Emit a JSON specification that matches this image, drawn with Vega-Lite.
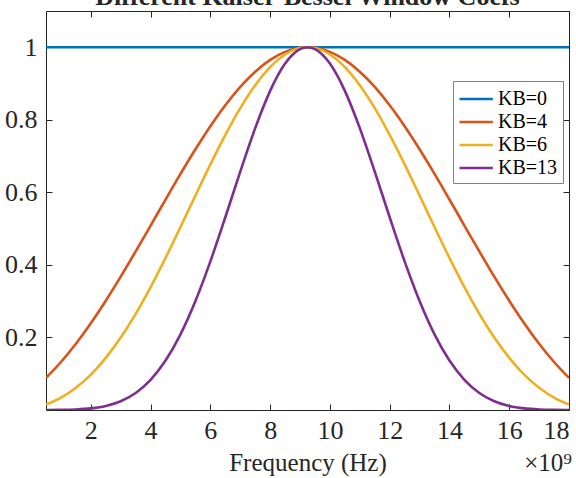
{
  "$schema": "https://vega.github.io/schema/vega-lite/v6.json",
  "width": 523,
  "height": 399,
  "autosize": {"type": "none"},
  "padding": {"left": 46, "top": 11, "right": 7, "bottom": 68},
  "background": "white",
  "title": {"text": "Different Kaiser-Bessel Window Coefs", "anchor": "middle", "font": "Liberation Serif", "fontSize": 26, "fontWeight": "bold", "color": "#262626", "baseline": "alphabetic", "offset": 0, "dy": 20},
  "config": {
    "view": {"stroke": "#262626", "strokeWidth": 1},
    "font": "Liberation Serif",
    "axis": {"grid": false, "domain": false, "tickColor": "#262626", "tickSize": -6, "tickWidth": 1, "labelFont": "Liberation Serif", "labelColor": "#262626", "labelFontSize": 26, "titleFont": "Liberation Serif", "titleColor": "#262626", "titleFontWeight": "normal", "titleFontSize": 25}
  },
  "data": {"values": [
    {"f": 0.5, "k": "KB=0", "w": 1}, {"f": 18, "k": "KB=0", "w": 1},
    {"f": 0.5, "k": "KB=4", "w": 0.08848}, {"f": 1, "k": "KB=4", "w": 0.13236}, {"f": 1.5, "k": "KB=4", "w": 0.18285}, {"f": 2, "k": "KB=4", "w": 0.23945}, {"f": 2.5, "k": "KB=4", "w": 0.30138}, {"f": 3, "k": "KB=4", "w": 0.36767}, {"f": 3.5, "k": "KB=4", "w": 0.43716}, {"f": 4, "k": "KB=4", "w": 0.50851}, {"f": 4.5, "k": "KB=4", "w": 0.58027}, {"f": 5, "k": "KB=4", "w": 0.6509}, {"f": 5.5, "k": "KB=4", "w": 0.71879}, {"f": 6, "k": "KB=4", "w": 0.78236}, {"f": 6.5, "k": "KB=4", "w": 0.84013}, {"f": 7, "k": "KB=4", "w": 0.89066}, {"f": 7.5, "k": "KB=4", "w": 0.93271}, {"f": 8, "k": "KB=4", "w": 0.96523}, {"f": 8.5, "k": "KB=4", "w": 0.98737}, {"f": 9, "k": "KB=4", "w": 0.99859}, {"f": 9.25, "k": "KB=4", "w": 1}, {"f": 9.5, "k": "KB=4", "w": 0.99859}, {"f": 10, "k": "KB=4", "w": 0.98737}, {"f": 10.5, "k": "KB=4", "w": 0.96523}, {"f": 11, "k": "KB=4", "w": 0.93271}, {"f": 11.5, "k": "KB=4", "w": 0.89066}, {"f": 12, "k": "KB=4", "w": 0.84013}, {"f": 12.5, "k": "KB=4", "w": 0.78236}, {"f": 13, "k": "KB=4", "w": 0.71879}, {"f": 13.5, "k": "KB=4", "w": 0.6509}, {"f": 14, "k": "KB=4", "w": 0.58027}, {"f": 14.5, "k": "KB=4", "w": 0.50851}, {"f": 15, "k": "KB=4", "w": 0.43716}, {"f": 15.5, "k": "KB=4", "w": 0.36767}, {"f": 16, "k": "KB=4", "w": 0.30138}, {"f": 16.5, "k": "KB=4", "w": 0.23945}, {"f": 17, "k": "KB=4", "w": 0.18285}, {"f": 17.5, "k": "KB=4", "w": 0.13236}, {"f": 18, "k": "KB=4", "w": 0.08848},
    {"f": 0.5, "k": "KB=6", "w": 0.01487}, {"f": 1, "k": "KB=6", "w": 0.03389}, {"f": 1.5, "k": "KB=6", "w": 0.06112}, {"f": 2, "k": "KB=6", "w": 0.0975}, {"f": 2.5, "k": "KB=6", "w": 0.1437}, {"f": 3, "k": "KB=6", "w": 0.19971}, {"f": 3.5, "k": "KB=6", "w": 0.26517}, {"f": 4, "k": "KB=6", "w": 0.33897}, {"f": 4.5, "k": "KB=6", "w": 0.41946}, {"f": 5, "k": "KB=6", "w": 0.50445}, {"f": 5.5, "k": "KB=6", "w": 0.59129}, {"f": 6, "k": "KB=6", "w": 0.67697}, {"f": 6.5, "k": "KB=6", "w": 0.75831}, {"f": 7, "k": "KB=6", "w": 0.83213}, {"f": 7.5, "k": "KB=6", "w": 0.8954}, {"f": 8, "k": "KB=6", "w": 0.94542}, {"f": 8.5, "k": "KB=6", "w": 0.98006}, {"f": 9, "k": "KB=6", "w": 0.99777}, {"f": 9.25, "k": "KB=6", "w": 1}, {"f": 9.5, "k": "KB=6", "w": 0.99777}, {"f": 10, "k": "KB=6", "w": 0.98006}, {"f": 10.5, "k": "KB=6", "w": 0.94542}, {"f": 11, "k": "KB=6", "w": 0.8954}, {"f": 11.5, "k": "KB=6", "w": 0.83213}, {"f": 12, "k": "KB=6", "w": 0.75831}, {"f": 12.5, "k": "KB=6", "w": 0.67697}, {"f": 13, "k": "KB=6", "w": 0.59129}, {"f": 13.5, "k": "KB=6", "w": 0.50445}, {"f": 14, "k": "KB=6", "w": 0.41946}, {"f": 14.5, "k": "KB=6", "w": 0.33897}, {"f": 15, "k": "KB=6", "w": 0.26517}, {"f": 15.5, "k": "KB=6", "w": 0.19971}, {"f": 16, "k": "KB=6", "w": 0.1437}, {"f": 16.5, "k": "KB=6", "w": 0.0975}, {"f": 17, "k": "KB=6", "w": 0.06112}, {"f": 17.5, "k": "KB=6", "w": 0.03389}, {"f": 18, "k": "KB=6", "w": 0.01487},
    {"f": 0.5, "k": "KB=13", "w": 0.00002}, {"f": 1, "k": "KB=13", "w": 0.00031}, {"f": 1.5, "k": "KB=13", "w": 0.0014}, {"f": 2, "k": "KB=13", "w": 0.00441}, {"f": 2.5, "k": "KB=13", "w": 0.01116}, {"f": 3, "k": "KB=13", "w": 0.02426}, {"f": 3.5, "k": "KB=13", "w": 0.04706}, {"f": 4, "k": "KB=13", "w": 0.08326}, {"f": 4.5, "k": "KB=13", "w": 0.13629}, {"f": 5, "k": "KB=13", "w": 0.20853}, {"f": 5.5, "k": "KB=13", "w": 0.30043}, {"f": 6, "k": "KB=13", "w": 0.40981}, {"f": 6.5, "k": "KB=13", "w": 0.53143}, {"f": 7, "k": "KB=13", "w": 0.65726}, {"f": 7.5, "k": "KB=13", "w": 0.77707}, {"f": 8, "k": "KB=13", "w": 0.87978}, {"f": 8.5, "k": "KB=13", "w": 0.95507}, {"f": 9, "k": "KB=13", "w": 0.99491}, {"f": 9.25, "k": "KB=13", "w": 1}, {"f": 9.5, "k": "KB=13", "w": 0.99491}, {"f": 10, "k": "KB=13", "w": 0.95507}, {"f": 10.5, "k": "KB=13", "w": 0.87978}, {"f": 11, "k": "KB=13", "w": 0.77707}, {"f": 11.5, "k": "KB=13", "w": 0.65726}, {"f": 12, "k": "KB=13", "w": 0.53143}, {"f": 12.5, "k": "KB=13", "w": 0.40981}, {"f": 13, "k": "KB=13", "w": 0.30043}, {"f": 13.5, "k": "KB=13", "w": 0.20853}, {"f": 14, "k": "KB=13", "w": 0.13629}, {"f": 14.5, "k": "KB=13", "w": 0.08326}, {"f": 15, "k": "KB=13", "w": 0.04706}, {"f": 15.5, "k": "KB=13", "w": 0.02426}, {"f": 16, "k": "KB=13", "w": 0.01116}, {"f": 16.5, "k": "KB=13", "w": 0.00441}, {"f": 17, "k": "KB=13", "w": 0.0014}, {"f": 17.5, "k": "KB=13", "w": 0.00031}, {"f": 18, "k": "KB=13", "w": 0.00002}
  ]},
  "layer": [
    {
      "mark": {"type": "line", "strokeWidth": 2.6, "interpolate": "monotone", "clip": true},
      "encoding": {
        "x": {"field": "f", "type": "quantitative", "scale": {"domain": [0.5, 18], "nice": false, "zero": false}, "axis": {"orient": "bottom", "values": [2, 4, 6, 8, 10, 12, 14, 16, 18], "labelPadding": 13, "title": "Frequency (Hz)", "titlePadding": 7}},
        "y": {"field": "w", "type": "quantitative", "scale": {"domain": [0.00002, 1.1], "nice": false, "zero": false}, "axis": {"orient": "left", "values": [0.2, 0.4, 0.6, 0.8, 1], "format": "~g", "labelPadding": 15, "title": null}},
        "color": {"field": "k", "type": "nominal", "sort": ["KB=0", "KB=4", "KB=6", "KB=13"], "scale": {"domain": ["KB=0", "KB=4", "KB=6", "KB=13"], "range": ["#0072BD", "#D95319", "#EDB120", "#7E2F8E"]},
          "legend": {"orient": "none", "legendX": 407, "legendY": 70, "title": null, "fillColor": "white", "strokeColor": "#808080", "padding": 5, "symbolType": "M-1,0L1.9,0", "symbolSize": 529, "symbolStrokeWidth": 2.6, "labelFont": "Liberation Serif", "labelFontSize": 20, "labelColor": "#000000", "labelOffset": 14, "rowPadding": 0}}
      }
    },
    {
      "mark": {"type": "point", "opacity": 0},
      "encoding": {
        "x": {"field": "f", "type": "quantitative", "axis": {"orient": "top", "values": [2, 4, 6, 8, 10, 12, 14, 16, 18], "labels": false, "title": null}},
        "y": {"field": "w", "type": "quantitative", "axis": {"orient": "right", "values": [0.2, 0.4, 0.6, 0.8, 1], "labels": false, "title": null}}
      }
    },
    {
      "data": {"values": [{"note": "×10⁹"}]},
      "mark": {"type": "text", "align": "right", "baseline": "alphabetic", "font": "Liberation Serif", "fontSize": 25, "color": "#262626", "dx": 3, "dy": 61},
      "encoding": {
        "text": {"field": "note", "type": "nominal"},
        "x": {"datum": 18, "type": "quantitative", "axis": null},
        "y": {"datum": 0.00002, "type": "quantitative", "axis": null}
      }
    }
  ],
  "resolve": {"axis": {"x": "independent", "y": "independent"}}
}
